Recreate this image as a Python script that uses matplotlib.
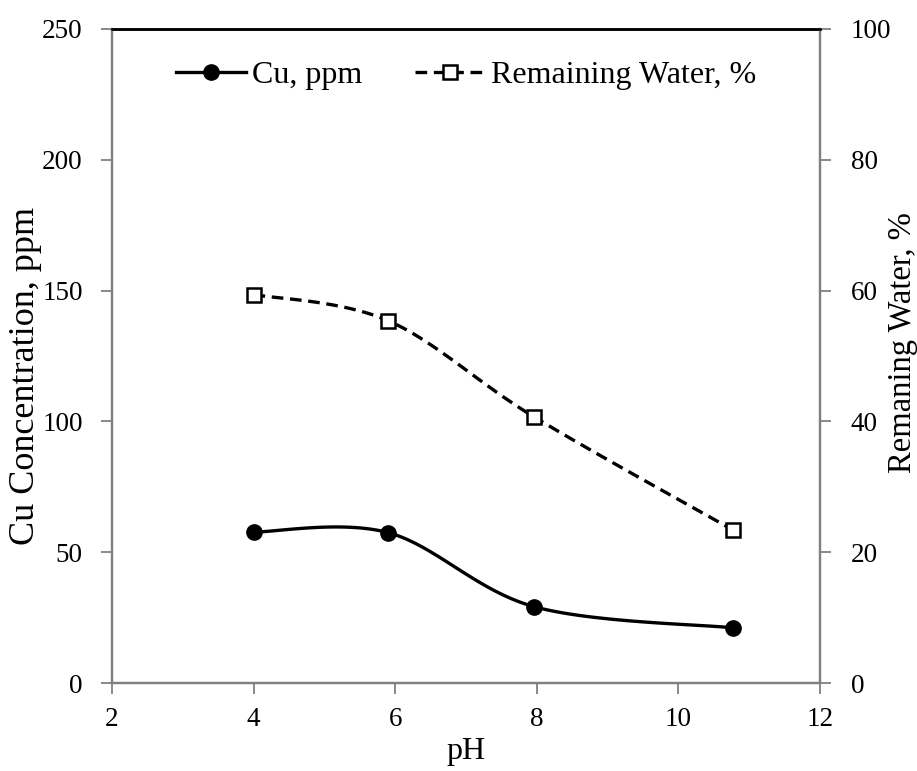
import numpy as np
import matplotlib
matplotlib.use('Agg')
import matplotlib.pyplot as plt

# values
ph = [4.0, 5.9, 7.96, 10.77]
cu_ppm = [57.7, 57.5, 29.2, 21.1]
water_pct = [59.4, 55.4, 40.7, 23.4]

x_ticks = [2, 4, 6, 8, 10, 12]
cu_ticks = [0, 50, 100, 150, 200, 250]
water_ticks = [0, 20, 40, 60, 80, 100]


def smooth(xs, ys, n=40):
    # excel-style smoothed line (catmull-rom bezier) through the points
    xs = np.asarray(xs, float)
    ys = np.asarray(ys, float)
    px = np.concatenate([[xs[0]], xs, [xs[-1]]])
    py = np.concatenate([[ys[0]], ys, [ys[-1]]])
    out_x, out_y = [], []
    t = np.linspace(0, 1, n)
    for i in range(1, len(px) - 2):
        p0 = np.array([px[i], py[i]])
        p3 = np.array([px[i + 1], py[i + 1]])
        c1 = p0 + (np.array([px[i + 1], py[i + 1]]) - np.array([px[i - 1], py[i - 1]])) / 6
        c2 = p3 - (np.array([px[i + 2], py[i + 2]]) - np.array([px[i], py[i]])) / 6
        bx = (1 - t)**3 * p0[0] + 3 * (1 - t)**2 * t * c1[0] + 3 * (1 - t) * t**2 * c2[0] + t**3 * p3[0]
        by = (1 - t)**3 * p0[1] + 3 * (1 - t)**2 * t * c1[1] + 3 * (1 - t) * t**2 * c2[1] + t**3 * p3[1]
        out_x.extend(bx)
        out_y.extend(by)
    return out_x, out_y


plt.rcParams['font.family'] = ['Liberation Serif', 'DejaVu Serif']
plt.rcParams['font.size'] = 19.5

fig = plt.figure(figsize=(9.17, 7.71), dpi=100)
ax = fig.add_axes([0.1221, 0.1141, 0.7721, 0.8483])
ax2 = ax.twinx()

gray = '#808080'
dash = (0, (3.5, 2))

sx, sy = smooth(ph, cu_ppm)
ax.plot(sx, sy, color='black', lw=2.4, zorder=3)
ax.plot(ph, cu_ppm, 'o', color='black', ms=11, zorder=4)

wx, wy = smooth(ph, water_pct)
ax2.plot(wx, wy, color='black', lw=2.4, ls=dash, zorder=3)
ax2.plot(ph, water_pct, 's', mfc='white', mec='black', mew=1.8, ms=10, zorder=4)

ax.set_xlim(2, 12)
ax.set_ylim(0, 250)
ax2.set_ylim(0, 100)
ax.set_xticks(x_ticks)
ax.set_yticks(cu_ticks)
ax2.set_yticks(water_ticks)

for a in (ax, ax2):
    for side in ('left', 'bottom', 'right'):
        a.spines[side].set_color(gray)
        a.spines[side].set_linewidth(1.6)
    a.spines['top'].set_color('black')
    a.spines['top'].set_linewidth(1.8)
    a.tick_params(direction='out', length=8, width=1.3, color=gray, labelcolor='black')
ax.tick_params(axis='y', pad=13)
ax.tick_params(axis='x', pad=9)
ax2.tick_params(axis='y', pad=14)

# axis titles placed where the reference has them
fig.text(0.0273, 0.512, 'Cu Concentration, ppm', fontsize=26, rotation=90,
         ha='center', va='center')
fig.text(0.9847, 0.556, 'Remaning Water, %', fontsize=23.5, rotation=90,
         ha='center', va='center')
fig.text(0.5082, 0.016, 'pH', fontsize=23, ha='center', va='baseline')

# legend handles
h1, = ax.plot([], [], '-o', color='black', lw=2.4, ms=11)
h2, = ax.plot([], [], ls=dash, color='black', lw=2.4, marker='s',
              mfc='white', mec='black', mew=1.8, ms=10)
ax.legend([h1, h2], ['Cu, ppm', 'Remaining Water, %'], ncol=2, frameon=False,
          loc='upper center', bbox_to_anchor=(0.5, 0.995), handlelength=2.2,
          handletextpad=0.19, columnspacing=1.65, fontsize=23)

fig.savefig('out.png', dpi=100)
